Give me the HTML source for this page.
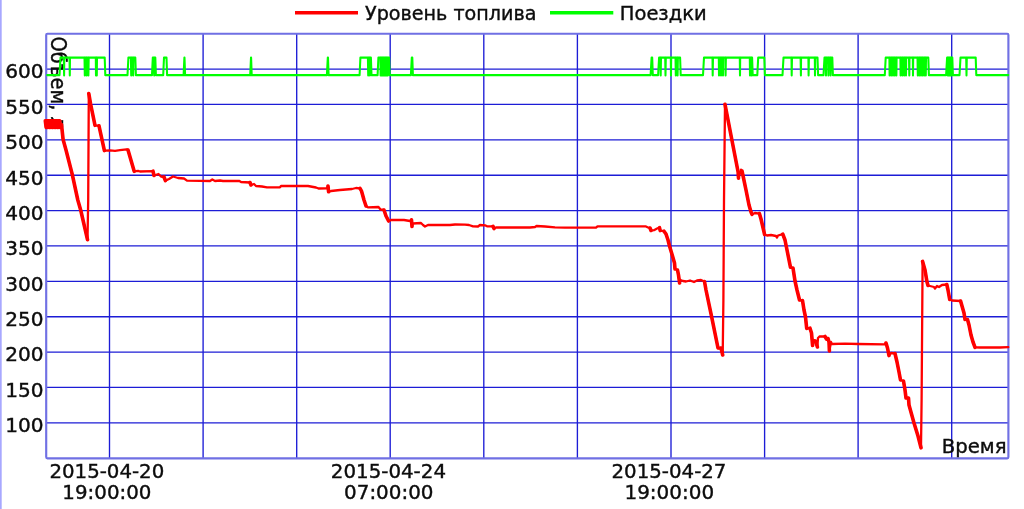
<!DOCTYPE html>
<html lang="ru"><head><meta charset="utf-8"><title>Уровень топлива</title>
<style>
html,body{margin:0;padding:0;background:#fff;overflow:hidden}
svg{display:block;filter:blur(0.65px)}
text{font-family:"DejaVu Sans","Liberation Sans",sans-serif;font-size:20px;fill:#0c0c0c;stroke:#0c0c0c;stroke-width:0.4px}
</style></head><body>
<svg width="1024" height="509" viewBox="0 0 1024 509">
<rect width="1024" height="509" fill="#fff"/>
<rect x="0" y="0" width="1.7" height="509" fill="#a8a8ff"/>
<g stroke="#1c1cd6" stroke-width="1.35" opacity="1"><line x1="109.5" y1="33.7" x2="109.5" y2="458.3"/><line x1="203.1" y1="33.7" x2="203.1" y2="458.3"/><line x1="296.7" y1="33.7" x2="296.7" y2="458.3"/><line x1="390.2" y1="33.7" x2="390.2" y2="458.3"/><line x1="483.8" y1="33.7" x2="483.8" y2="458.3"/><line x1="577.4" y1="33.7" x2="577.4" y2="458.3"/><line x1="671.0" y1="33.7" x2="671.0" y2="458.3"/><line x1="764.6" y1="33.7" x2="764.6" y2="458.3"/><line x1="858.1" y1="33.7" x2="858.1" y2="458.3"/><line x1="951.7" y1="33.7" x2="951.7" y2="458.3"/><line x1="46.2" y1="422.8" x2="1008.4" y2="422.8"/><line x1="46.2" y1="387.4" x2="1008.4" y2="387.4"/><line x1="46.2" y1="352.1" x2="1008.4" y2="352.1"/><line x1="46.2" y1="316.7" x2="1008.4" y2="316.7"/><line x1="46.2" y1="281.3" x2="1008.4" y2="281.3"/><line x1="46.2" y1="245.9" x2="1008.4" y2="245.9"/><line x1="46.2" y1="210.6" x2="1008.4" y2="210.6"/><line x1="46.2" y1="175.2" x2="1008.4" y2="175.2"/><line x1="46.2" y1="139.8" x2="1008.4" y2="139.8"/><line x1="46.2" y1="104.4" x2="1008.4" y2="104.4"/><line x1="46.2" y1="69.1" x2="1008.4" y2="69.1"/></g>
<rect x="46.2" y="33.7" width="962.1999999999999" height="424.6" rx="1.2" fill="none" stroke="#7070e4" stroke-width="2.15"/>
<text transform="translate(50.7,36.58) rotate(90) scale(0.9724,1.03)">Объем, л</text>
<text transform="translate(941.63,453.00) scale(0.9863,0.9800)">Время</text>
<g><text transform="translate(5.22,432.22) scale(1.005,1.0)">100</text><text transform="translate(5.22,396.85) scale(1.005,1.0)">150</text><text transform="translate(5.22,361.47) scale(1.005,1.0)">200</text><text transform="translate(5.22,326.10) scale(1.005,1.0)">250</text><text transform="translate(5.22,290.72) scale(1.005,1.0)">300</text><text transform="translate(5.22,255.35) scale(1.005,1.0)">350</text><text transform="translate(5.22,219.97) scale(1.005,1.0)">400</text><text transform="translate(5.22,184.60) scale(1.005,1.0)">450</text><text transform="translate(5.22,149.22) scale(1.005,1.0)">500</text><text transform="translate(5.22,113.85) scale(1.005,1.0)">550</text><text transform="translate(5.22,78.47) scale(1.005,1.0)">600</text></g>
<g><text transform="translate(49.42,478.20) scale(0.9885,0.9700)">2015-04-20</text><text transform="translate(62.37,498.70) scale(0.9913,0.9700)">19:00:00</text><text transform="translate(330.81,478.20) scale(0.9912,0.9700)">2015-04-24</text><text transform="translate(344.06,498.70) scale(0.9960,0.9700)">07:00:00</text><text transform="translate(611.52,478.20) scale(0.9894,0.9700)">2015-04-27</text><text transform="translate(624.45,498.70) scale(0.9994,0.9700)">19:00:00</text></g>
<g fill="none" stroke="#ff0000" stroke-linejoin="round" stroke-linecap="round"><path d="M87.5,239.7 L88.2,200.0 L88.8,93.5 M722.7,355.0 L723.4,300.0 L724.0,200.0 L725.0,104.3 M921.0,447.8 L921.6,400.0 L922.6,261.4" stroke-width="2.3"/><path d="M45.3,120.8 L46.1,127.4 L46.9,120.8 L47.7,127.4 L48.5,120.8 L49.3,127.4 L50.1,120.8 L50.9,127.4 L51.7,120.8 L52.5,127.4 L53.3,120.8 L54.1,127.4 L54.9,120.8 L55.7,127.4 L56.5,120.8 L57.3,127.4 L58.1,120.8 L58.9,127.4 L59.7,120.8 L60.5,127.4 L61.5,124.5 L63.1,139.5 L66.0,150.0 L72.4,175.0 L77.8,200.0 L80.8,210.5 L87.5,239.7 M88.8,93.5 L90.6,104.0 L95.0,125.3 L99.0,125.8 L104.4,150.6 L110.0,150.3 L115.0,150.8 L120.0,150.2 L126.6,149.3 L128.0,150.0 L134.2,171.3 L138.0,170.8 L140.0,171.5 L153.0,171.2 L154.0,175.5 L158.5,174.0 L161.0,176.5 L164.0,177.0 L165.4,180.6 L169.0,179.0 L173.0,176.5 L178.0,178.0 L184.0,178.5 L187.0,180.6 L200.0,180.8 L210.0,181.0 L212.3,179.5 L215.0,181.0 L220.0,180.5 L223.0,181.0 L239.0,180.8 L241.0,182.0 L250.0,182.5 L251.0,185.0 L254.0,184.0 L256.0,186.0 L262.0,186.5 L267.0,187.3 L280.0,187.3 L281.0,186.0 L305.0,186.0 L308.0,186.0 L316.0,187.5 L318.5,188.5 L327.0,188.3 L328.0,186.0 L328.6,191.8 L331.0,191.0 L340.0,190.0 L352.0,189.0 L356.0,188.0 L360.0,188.3 L361.5,191.0 L364.0,200.0 L366.0,206.0 L368.0,207.4 L378.5,207.0 L380.5,209.5 L384.0,210.0 L386.0,216.0 L388.6,221.0 L391.0,220.0 L404.0,220.0 L410.0,221.0 L411.5,219.8 L412.0,226.5 L413.0,223.5 L421.0,223.0 L423.0,225.0 L425.0,226.5 L428.0,225.0 L440.0,224.8 L450.0,225.0 L455.0,224.5 L465.0,224.7 L469.0,225.0 L473.0,226.3 L478.0,226.5 L480.0,225.0 L485.0,225.3 L487.0,226.3 L493.0,226.3 L494.0,228.6 L496.0,227.5 L530.0,227.5 L535.0,227.0 L536.5,226.0 L545.0,226.5 L555.0,227.3 L565.0,227.6 L596.0,227.7 L597.5,226.3 L645.5,226.3 L648.0,227.5 L650.0,228.0 L651.0,230.5 L654.0,230.2 L657.0,228.5 L659.5,227.7 L660.2,230.6 L664.0,231.2 L666.0,234.0 L668.0,240.0 L669.5,246.0 L672.5,256.0 L674.5,263.0 L675.0,269.0 L677.5,270.0 L678.5,275.0 L679.6,283.0 L680.5,280.0 L683.0,281.0 L686.0,281.5 L690.0,280.5 L694.0,282.0 L697.0,280.5 L701.0,280.0 L704.5,281.5 L706.0,290.0 L711.6,316.6 L718.0,348.0 L721.0,348.0 L722.7,355.0 M725.0,104.3 L731.9,140.0 L735.0,156.0 L738.1,172.0 L738.5,178.2 L741.0,169.6 L742.0,171.0 L743.5,178.0 L746.0,190.0 L749.0,205.0 L751.0,212.0 L752.0,214.4 L755.0,213.0 L759.4,213.6 L761.0,219.0 L764.6,234.6 L767.0,235.5 L771.0,235.0 L776.0,236.0 L777.0,237.5 L778.0,235.5 L782.8,234.2 L785.0,240.0 L787.0,250.0 L790.5,267.3 L793.0,268.0 L795.0,281.0 L797.0,290.0 L799.5,300.0 L802.5,300.5 L804.0,310.0 L805.5,317.0 L806.7,328.4 L810.0,328.2 L811.5,333.0 L812.6,345.5 L814.0,340.0 L815.5,341.0 L817.4,347.0 L818.0,338.0 L819.0,337.0 L820.0,336.3 L825.0,336.5 L826.5,339.0 L828.0,338.5 L829.0,342.0 L829.4,351.0 L831.0,342.0 L832.0,344.0 L845.0,343.7 L858.0,344.0 L884.5,344.3 L886.0,343.0 L887.5,348.0 L889.0,355.6 L891.0,353.0 L895.0,353.5 L897.0,362.0 L899.0,372.0 L900.5,380.0 L903.5,381.0 L905.0,390.0 L906.0,398.0 L908.5,398.0 L909.0,405.0 L914.0,423.0 L918.0,436.0 L921.0,447.8 M922.6,261.4 L925.0,270.0 L927.0,282.0 L928.0,285.5 L930.0,286.0 L934.0,287.0 L935.0,288.5 L937.0,286.0 L939.0,287.0 L942.0,285.0 L946.8,284.5 L948.0,290.0 L949.7,299.5 L952.0,300.5 L960.6,301.0 L962.0,306.0 L964.0,313.0 L965.0,319.4 L967.5,319.6 L969.0,325.0 L971.0,335.0 L973.0,342.0 L975.0,347.3 L980.0,347.5 L1000.0,347.5 L1008.3,347.2" stroke-width="2.3"/><path d="M45.3,120.8 L46.1,127.4 M46.9,120.8 L47.7,127.4 M48.5,120.8 L49.3,127.4 M50.1,120.8 L50.9,127.4 M51.7,120.8 L52.5,127.4 M53.3,120.8 L54.1,127.4 M54.9,120.8 L55.7,127.4 M56.5,120.8 L57.3,127.4 M58.1,120.8 L58.9,127.4 M59.7,120.8 L60.5,127.4 M61.5,124.5 L63.1,139.5 L66.0,150.0 L72.4,175.0 L77.8,200.0 L80.8,210.5 L87.5,239.7 M88.8,93.5 L90.6,104.0 L95.0,125.3 M99.0,125.8 L104.4,150.6 M128.0,150.0 L134.2,171.3 M153.0,171.2 L154.0,175.5 M164.0,177.0 L165.4,180.6 M250.0,182.5 L251.0,185.0 M328.0,186.0 L328.6,191.8 M360.0,188.3 L361.5,191.0 L364.0,200.0 L366.0,206.0 M384.0,210.0 L386.0,216.0 L388.6,221.0 M411.5,219.8 L412.0,226.5 M493.0,226.3 L494.0,228.6 M650.0,228.0 L651.0,230.5 M659.5,227.7 L660.2,230.6 M664.0,231.2 L666.0,234.0 L668.0,240.0 L669.5,246.0 L672.5,256.0 L674.5,263.0 L675.0,269.0 M677.5,270.0 L678.5,275.0 L679.6,283.0 M704.5,281.5 L706.0,290.0 L711.6,316.6 L718.0,348.0 M721.0,348.0 L722.7,355.0 M725.0,104.3 L731.9,140.0 L735.0,156.0 L738.1,172.0 L738.5,178.2 M742.0,171.0 L743.5,178.0 L746.0,190.0 L749.0,205.0 L751.0,212.0 L752.0,214.4 M759.4,213.6 L761.0,219.0 L764.6,234.6 M782.8,234.2 L785.0,240.0 L787.0,250.0 L790.5,267.3 M793.0,268.0 L795.0,281.0 L797.0,290.0 L799.5,300.0 M802.5,300.5 L804.0,310.0 L805.5,317.0 L806.7,328.4 M810.0,328.2 L811.5,333.0 L812.6,345.5 M815.5,341.0 L817.4,347.0 M825.0,336.5 L826.5,339.0 M828.0,338.5 L829.0,342.0 L829.4,351.0 M886.0,343.0 L887.5,348.0 L889.0,355.6 M895.0,353.5 L897.0,362.0 L899.0,372.0 L900.5,380.0 M903.5,381.0 L905.0,390.0 L906.0,398.0 M908.5,398.0 L909.0,405.0 L914.0,423.0 L918.0,436.0 L921.0,447.8 M922.6,261.4 L925.0,270.0 L927.0,282.0 L928.0,285.5 M946.8,284.5 L948.0,290.0 L949.7,299.5 M960.6,301.0 L962.0,306.0 L964.0,313.0 L965.0,319.4 M967.5,319.6 L969.0,325.0 L971.0,335.0 L973.0,342.0 L975.0,347.3" stroke-width="3.6"/></g>
<path d="M47.2,75.1 L59.5,75.1 L60.5,57.6 L63.8,57.6 L64.1,75.4 L64.3,57.6 L69.5,57.6 L69.8,75.4 L70.0,57.6 L84.5,57.6 L84.8,75.4 L85.0,57.6 L86.3,57.6 L86.6,75.4 L86.8,57.6 L88.2,57.6 L88.4,75.4 L88.7,57.6 L95.8,57.6 L96.0,75.4 L96.2,57.6 L96.5,57.6 L96.8,75.4 L97.0,57.6 L104.7,57.6 L105.3,75.1 L127.5,75.1 L128.4,57.6 L130.9,57.6 L131.2,75.4 L131.4,57.6 L132.9,57.6 L133.2,75.4 L133.4,57.6 L135.3,57.6 L135.9,75.1 L152.0,75.1 L152.8,57.6 L153.9,57.6 L154.2,75.4 L154.4,57.6 L155.3,57.6 L155.9,75.1 L163.2,75.1 L164.0,57.6 L166.5,57.6 L167.1,75.1 L183.6,75.1 L184.4,57.6 L184.5,57.6 L185.1,75.1 L250.2,75.1 L251.0,57.6 L251.1,57.6 L251.7,75.1 L326.9,75.1 L327.8,57.6 L328.0,57.6 L328.6,75.1 L359.6,75.1 L360.4,57.6 L367.9,57.6 L368.2,75.4 L368.4,57.6 L369.6,57.6 L369.8,75.4 L370.1,57.6 L370.9,57.6 L371.5,75.1 L377.6,75.1 L378.4,57.6 L380.4,57.6 L380.6,75.4 L380.9,57.6 L381.6,57.6 L381.8,75.4 L382.1,57.6 L382.8,57.6 L383.0,75.4 L383.2,57.6 L383.9,57.6 L384.2,75.4 L384.4,57.6 L385.1,57.6 L385.4,75.4 L385.6,57.6 L386.4,57.6 L386.6,75.4 L386.9,57.6 L387.6,57.6 L387.8,75.4 L388.1,57.6 L389.1,57.6 L389.7,75.1 L410.9,75.1 L411.8,57.6 L412.3,57.6 L412.9,75.1 L650.6,75.1 L651.6,57.6 L652.2,57.6 L652.8,75.1 L658.1,75.1 L659.1,57.6 L660.5,57.6 L660.7,75.4 L661.0,57.6 L665.2,57.6 L665.5,75.4 L665.8,57.6 L670.8,57.6 L671.0,75.4 L671.2,57.6 L675.5,57.6 L675.8,75.4 L676.0,57.6 L677.4,57.6 L677.6,75.4 L677.9,57.6 L680.1,57.6 L680.7,75.1 L703.0,75.1 L704.0,57.6 L712.5,57.6 L712.7,75.4 L713.0,57.6 L718.8,57.6 L719.0,75.4 L719.2,57.6 L720.8,57.6 L721.0,75.4 L721.2,57.6 L722.8,57.6 L723.0,75.4 L723.2,57.6 L725.4,57.6 L725.6,75.4 L725.9,57.6 L739.8,57.6 L740.0,75.4 L740.2,57.6 L749.8,57.6 L750.0,75.4 L750.2,57.6 L751.4,57.6 L751.6,75.4 L751.9,57.6 L752.1,57.6 L752.7,75.1 L757.3,75.1 L758.2,57.6 L764.3,57.6 L764.9,75.1 L782.5,75.1 L783.5,57.6 L791.5,57.6 L791.7,75.4 L792.0,57.6 L800.6,57.6 L800.9,75.4 L801.1,57.6 L808.4,57.6 L808.6,75.4 L808.9,57.6 L814.8,57.6 L815.0,75.4 L815.2,57.6 L817.5,57.6 L818.1,75.1 L823.5,75.1 L824.5,57.6 L825.8,57.6 L826.0,75.4 L826.2,57.6 L828.1,57.6 L828.4,75.4 L828.6,57.6 L830.4,57.6 L830.6,75.4 L830.9,57.6 L832.3,57.6 L832.9,75.1 L884.8,75.1 L885.7,57.6 L889.4,57.6 L889.6,75.4 L889.9,57.6 L891.0,57.6 L891.3,75.4 L891.5,57.6 L892.8,57.6 L893.0,75.4 L893.2,57.6 L894.5,57.6 L894.7,75.4 L895.0,57.6 L896.1,57.6 L896.4,75.4 L896.6,57.6 L900.4,57.6 L900.6,75.4 L900.9,57.6 L902.1,57.6 L902.4,75.4 L902.6,57.6 L904.0,57.6 L904.2,75.4 L904.5,57.6 L905.8,57.6 L906.0,75.4 L906.2,57.6 L909.0,57.6 L909.3,75.4 L909.5,57.6 L912.8,57.6 L913.0,75.4 L913.2,57.6 L917.5,57.6 L917.8,75.4 L918.0,57.6 L919.1,57.6 L919.4,75.4 L919.6,57.6 L920.8,57.6 L921.0,75.4 L921.2,57.6 L922.4,57.6 L922.6,75.4 L922.9,57.6 L924.0,57.6 L924.2,75.4 L924.5,57.6 L925.5,57.6 L925.8,75.4 L926.0,57.6 L928.3,57.6 L928.9,75.1 L946.1,75.1 L947.1,57.6 L947.5,57.6 L947.8,75.4 L948.0,57.6 L948.8,57.6 L949.0,75.4 L949.2,57.6 L950.0,57.6 L950.2,75.4 L950.5,57.6 L951.1,57.6 L951.4,75.4 L951.6,57.6 L952.3,57.6 L952.9,75.1 L959.5,75.1 L960.5,57.6 L966.2,57.6 L966.5,75.4 L966.8,57.6 L975.7,57.6 L976.3,75.1 L1008.3,75.1" fill="none" stroke="#00ff00" stroke-width="2.05" stroke-linejoin="round" stroke-linecap="round"/>
<line x1="295" y1="12.75" x2="358" y2="12.75" stroke="#ff0000" stroke-width="3.7"/>

<line x1="550" y1="12.75" x2="613.3" y2="12.75" stroke="#00ff00" stroke-width="3.7"/>
<text transform="translate(365.02,20.30) scale(0.9576,0.9800)">Уровень топлива</text><text transform="translate(619.85,20.30) scale(0.9736,0.9800)">Поездки</text>
</svg>
</body></html>
